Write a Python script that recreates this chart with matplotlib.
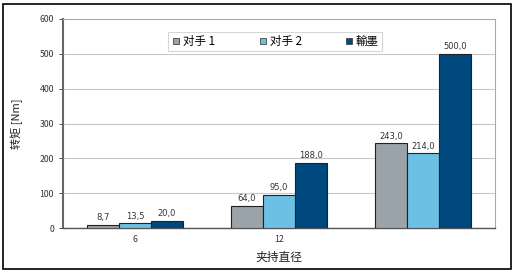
import matplotlib
matplotlib.use("Agg")
import matplotlib.pyplot as plt
from matplotlib.patches import Rectangle
from matplotlib.lines import Line2D
import numpy as np

plt.rcParams['font.family'] = ['Noto Sans CJK SC', 'DejaVu Sans']

categories = ["6", "12", ""]
series_names = ["对手 1", "对手 2", "輸墨"]
opp1 = [8.7, 64.0, 243.0]
opp2 = [13.5, 95.0, 214.0]
ours = [20.0, 188.0, 500.0]
colors = ["#9aa3a9", "#6cc0e4", "#00497e"]
yticks = [0, 100, 200, 300, 400, 500, 600]

W, H = 518, 273
fig = plt.figure(figsize=(W / 100, H / 100), dpi=100)
fig.patch.set_facecolor("white")
fig.add_artist(Rectangle((3 / W, 4 / H), 508 / W, 265 / H, transform=fig.transFigure,
                         fill=False, edgecolor="black", linewidth=1.2))

ax = fig.add_axes([63 / W, 45 / H, 432 / W, 209 / H])
x = np.arange(len(categories))
bw = 0.222
for i, (vals, c, name) in enumerate(zip([opp1, opp2, ours], colors, series_names)):
    pos = x + (i - 1) * bw
    ax.bar(pos, vals, width=bw, color=c, edgecolor="#222222", linewidth=0.8,
           label=name, zorder=3)
    for p, v in zip(pos, vals):
        ax.text(p, v + 8, f"{v:.1f}".replace(".", ","), ha="center", va="bottom",
                fontsize=6, color="#333333", family=["DejaVu Sans"])

ax.set_xlim(-0.5, 2.5)
ax.set_ylim(0, 600)
ax.set_yticks(yticks)
ax.set_xticks(x)
ax.set_xticklabels(categories)
ax.tick_params(axis="both", labelsize=6.3, colors="#333333", length=3, width=0.6)
ax.tick_params(axis="x", length=0, pad=5)
ax.yaxis.grid(True, color="#c8c8c8", linewidth=0.8, zorder=0)
ax.set_axisbelow(True)
for s in ["top", "right"]:
    ax.spines[s].set_color("#aaaaaa")
    ax.spines[s].set_linewidth(0.8)
ax.spines["left"].set_color("#666666")
ax.spines["left"].set_linewidth(1.5)
ax.spines["bottom"].set_color("#555555")
ax.spines["bottom"].set_linewidth(1.0)

ax.set_xlabel("夹持直径", fontsize=8.5, color="#222222", labelpad=5)
ax.set_ylabel("转矩 [Nm]", fontsize=8, color="#222222", labelpad=12)

handles = [Line2D([0], [0], marker="s", linestyle="none", markersize=4,
                  markerfacecolor=c, markeredgecolor="#444444", markeredgewidth=0.6)
           for c in colors]
leg = ax.legend(handles, series_names, loc="upper center", bbox_to_anchor=(0.49, 0.965),
                ncol=3, fontsize=8.3, frameon=True, fancybox=False, handletextpad=0.1,
                columnspacing=3.6, borderpad=0.25, handlelength=1.0)
leg.get_frame().set_edgecolor("#cccccc")
leg.get_frame().set_linewidth(0.8)

fig.savefig("out.png", dpi=100)
